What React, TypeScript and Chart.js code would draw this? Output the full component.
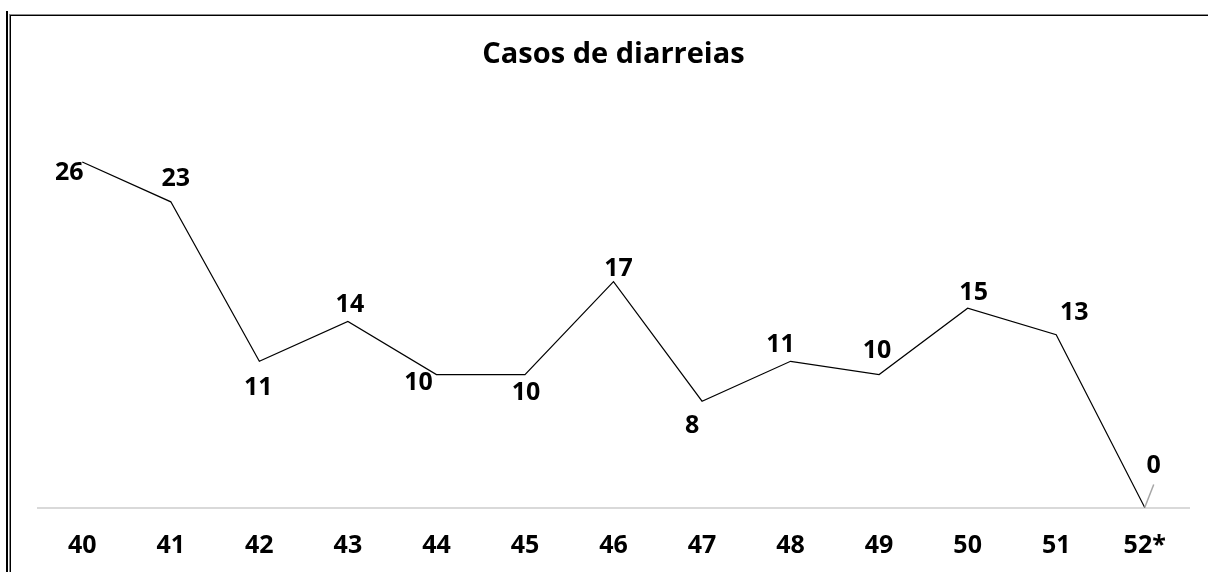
import React, { useEffect, useRef } from "react";
import { Chart, registerables } from "chart.js";

Chart.register(...registerables);

const chartTitle = "Casos de diarreias";
const weeks = ["40", "41", "42", "43", "44", "45", "46", "47", "48", "49", "50", "51", "52*"];
const cases = [26, 23, 11, 14, 10, 10, 17, 8, 11, 10, 15, 13, 0];
// label placement offsets relative to each point (dx, dy), as in the reference
const labelDx = [-13, 5, -1, 2, -18, 1, 5, -10, -10, -2, 6, 18, 9];
const labelDy = [10, -24, 26, -18, 7, 17, -14, 24, -17, -25, -16, -23, -43];

const FONT = "'Open Sans', 'Liberation Sans', sans-serif";

export default function App() {
  const ref = useRef<HTMLCanvasElement | null>(null);

  useEffect(() => {
    document.body.style.margin = "0";
    const canvas = ref.current;
    if (!canvas) return;

    const framePlugin = {
      id: "frame",
      beforeDraw(chart: any) {
        const ctx = chart.ctx;
        ctx.save();
        ctx.fillStyle = "#ffffff";
        ctx.fillRect(0, 0, chart.width, chart.height);
        ctx.fillStyle = "#000000";
        ctx.fillRect(6, 11, 2, chart.height - 11);
        ctx.fillStyle = "#8c8c8c";
        ctx.fillRect(9, 14, 1, chart.height - 14);
        ctx.fillRect(9, 14, chart.width - 9, 1);
        ctx.fillStyle = "#000000";
        ctx.fillRect(10, 15, 1, chart.height - 15);
        ctx.fillRect(10, 15, chart.width - 10, 1);
        ctx.restore();
      },
    };

    const labelPlugin = {
      id: "pointLabels",
      afterDatasetsDraw(chart: any) {
        const ctx = chart.ctx;
        const meta = chart.getDatasetMeta(0);
        ctx.save();
        ctx.font = `bold 25px ${FONT}`;
        ctx.fillStyle = "#000000";
        ctx.textAlign = "center";
        ctx.textBaseline = "middle";
        meta.data.forEach((pt: any, i: number) => {
          const x = pt.x + labelDx[i];
          const y = pt.y + labelDy[i];
          if (Math.abs(labelDy[i]) > 35) {
            ctx.strokeStyle = "#a6a6a6";
            ctx.lineWidth = 1.5;
            ctx.beginPath();
            ctx.moveTo(pt.x, pt.y);
            ctx.lineTo(x, pt.y - 23);
            ctx.stroke();
          }
          ctx.fillText(String(cases[i]), x, y + 1);
        });
        ctx.restore();
      },
    };

    const chart = new Chart(canvas, {
      type: "line",
      data: {
        labels: weeks,
        datasets: [
          {
            data: cases,
            borderColor: "#000000",
            borderWidth: 1.2,
            pointRadius: 0,
            tension: 0,
            fill: false,
            clip: false as any,
          },
        ],
      },
      options: {
        animation: false,
        responsive: false,
        maintainAspectRatio: false,
        layout: { padding: { left: 38, right: 19, top: 0, bottom: 0 } },
        plugins: {
          legend: { display: false },
          tooltip: { enabled: false },
          title: {
            display: true,
            text: chartTitle,
            color: "#000000",
            font: { family: FONT, size: 29, weight: "bold" },
            padding: { top: 37, bottom: 37 },
          },
        },
        scales: {
          x: {
            type: "category",
            offset: true,
            grid: { display: false, drawTicks: false },
            border: { display: true, color: "#d9d9d9", width: 2 },
            ticks: {
              color: "#000000",
              font: { family: FONT, size: 25, weight: "bold" },
              padding: 23,
              maxRotation: 0,
              autoSkip: false,
            },
            afterFit(scale: any) {
              scale.height = 64.5;
            },
          },
          y: {
            display: false,
            min: 0,
            max: 30,
          },
        },
      },
      plugins: [framePlugin, labelPlugin],
    });

    return () => chart.destroy();
  }, []);

  return (
    <div style={{ width: 1208, height: 572 }}>
      <canvas ref={ref} width={1208} height={572} style={{ display: "block" }} />
    </div>
  );
}
